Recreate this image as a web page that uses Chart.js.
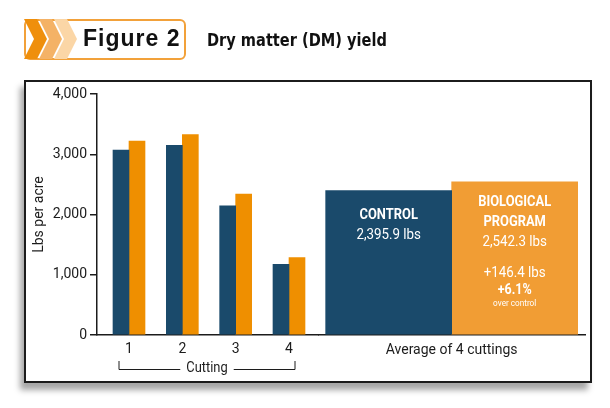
<!DOCTYPE html>
<html>
<head>
<meta charset="utf-8">
<script src="https://cdn.jsdelivr.net/npm/chart.js@4.4.1/dist/chart.umd.min.js"></script>
<style>
  html, body { margin: 0; padding: 0; background: #fff; }
  body { width: 610px; height: 408px; position: relative; overflow: hidden; }
  #frame {
    position: absolute; left: 24px; top: 80px; width: 564px; height: 299px;
    border: 2px solid #1c1c1c; background: #fff;
    box-shadow: -4px 7px 6px rgba(0, 0, 0, 0.35);
  }
  #chart { position: absolute; left: 0; top: 0; }
  #badge { position: absolute; left: 0; top: 0; }
  #title {
    position: absolute; left: 207px; top: 29px; color: #111; white-space: nowrap;
    font-family: "DejaVu Sans", sans-serif; font-weight: bold; font-size: 18px;
    transform: scaleX(0.81); transform-origin: 0 0;
  }
</style>
</head>
<body>
<div id="frame"></div>
<canvas id="chart" width="610" height="408"></canvas>
<svg id="badge" width="200" height="70">
  <rect x="25" y="20" width="160" height="39" rx="5" fill="#fff" stroke="#f2a13a" stroke-width="2"/>
  <polygon points="24,19 37,19 47,39 37,59 24,59 34,39" fill="#ef8f0c"/>
  <polygon points="39,19 52,19 62,39 52,59 39,59 49,39" fill="#f4b266"/>
  <polygon points="54,19 67,19 77,39 67,59 54,59 64,39" fill="#fbd6a6"/>
  <text x="83" y="46" font-family="Liberation Sans, Arial, sans-serif" font-weight="bold" font-size="23" letter-spacing="1" fill="#111">Figure 2</text>
</svg>
<div id="title">Dry matter (DM) yield</div>

<script>
  // values (lbs per acre)
  const cuttings = [1, 2, 3, 4];
  const controlYield = [3070, 3150, 2145, 1175];
  const bioYield = [3220, 3325, 2340, 1285];
  const avgLabels = ["Average of 4 cuttings"];
  const controlAvg = [2395.9];
  const bioAvg = [2542.3];
  const yTicks = [0, 1000, 2000, 3000, 4000];
  const cuttingTitle = "Cutting";
  const yTitle = "Lbs per acre";

  const NAVY = "#1a4a6b";
  const ORANGE = "#ef8f00";
  const ORANGE_AVG = "#f19d34";
  const INK = "#1c1c1c";
  const FONT = "Roboto, 'Liberation Sans', sans-serif";
  const SQUEEZE = 0.86; // the original uses a condensed face

  function fmt(v, digits) {
    return v.toLocaleString("en-US", { minimumFractionDigits: digits, maximumFractionDigits: digits });
  }

  function narrowText(c, text, x, y) {
    c.save();
    c.translate(x, y);
    c.scale(SQUEEZE, 1);
    c.fillText(text, 0, 0);
    c.restore();
  }

  const gain = bioAvg[0] - controlAvg[0];
  const gainPct = (gain / controlAvg[0]) * 100;

  // text drawn inside the two average bars, dy is from the top of the bar
  const barNotes = [
    [
      { text: "CONTROL", size: 15, bold: true, dy: 28.6 },
      { text: fmt(controlAvg[0], 1) + " lbs", size: 15.5, dy: 48.3 },
    ],
    [
      { text: "BIOLOGICAL", size: 15, bold: true, dy: 24.2 },
      { text: "PROGRAM", size: 15, bold: true, dy: 44 },
      { text: fmt(bioAvg[0], 1) + " lbs", size: 15.5, dy: 64 },
      { text: "+" + fmt(gain, 1) + " lbs", size: 15.5, dy: 95.5 },
      { text: "+" + fmt(gainPct, 1) + "%", size: 14.5, bold: true, dy: 112.2 },
      { text: "over control", size: 9.5, dy: 124.2 },
    ],
  ];

  const barText = {
    id: "barText",
    afterDatasetsDraw(chart) {
      const c = chart.ctx;
      c.save();
      c.fillStyle = "#fff";
      c.textAlign = "center";
      c.textBaseline = "alphabetic";
      barNotes.forEach((lines, i) => {
        const bar = chart.getDatasetMeta(2 + i).data[0];
        lines.forEach((l) => {
          c.font = (l.bold ? "bold " : "") + l.size + "px " + FONT;
          narrowText(c, l.text, bar.x, bar.y + l.dy);
        });
      });
      c.restore();
    },
  };

  // bracket under the cutting numbers
  const cuttingBracket = {
    id: "cuttingBracket",
    afterDraw(chart) {
      const xs = chart.scales.x;
      const c = chart.ctx;
      const bottom = chart.chartArea.bottom;
      const left = xs.getPixelForValue(cuttings[0]) - 10;
      const right = xs.getPixelForValue(cuttings[cuttings.length - 1]) + 6;
      const mid = (left + right) / 2;
      const lineY = bottom + 34.5;
      c.save();
      c.font = "15px " + FONT;
      c.fillStyle = INK;
      c.textAlign = "center";
      narrowText(c, cuttingTitle, mid, bottom + 36.7);
      const half = (c.measureText(cuttingTitle).width * SQUEEZE) / 2 + 6;
      c.strokeStyle = INK;
      c.lineWidth = 1;
      c.beginPath();
      c.moveTo(left, bottom + 26);
      c.lineTo(left, lineY);
      c.lineTo(mid - half, lineY);
      c.moveTo(mid + half, lineY);
      c.lineTo(right, lineY);
      c.lineTo(right, bottom + 26);
      c.stroke();
      c.restore();
    },
  };

  const tickFont = { family: FONT, size: 14 };

  new Chart(document.getElementById("chart"), {
    type: "bar",
    data: {
      datasets: [
        {
          label: "Control",
          indexAxis: "x",
          xAxisID: "x",
          data: cuttings.map((c, i) => ({ x: c, y: controlYield[i] })),
          backgroundColor: NAVY,
          barThickness: 16,
        },
        {
          label: "Biological program",
          indexAxis: "x",
          xAxisID: "x",
          data: cuttings.map((c, i) => ({ x: c, y: bioYield[i] })),
          backgroundColor: ORANGE,
          barThickness: 16,
        },
        {
          label: "Control",
          indexAxis: "x",
          xAxisID: "avg",
          data: controlAvg,
          backgroundColor: NAVY,
          barThickness: 126,
        },
        {
          label: "Biological program",
          indexAxis: "x",
          xAxisID: "avg",
          data: bioAvg,
          backgroundColor: ORANGE_AVG,
          barThickness: 126,
        },
      ],
    },
    options: {
      responsive: false,
      animation: false,
      // chart.js 4.5 shares one bar slot between several x axes; with the chart-level
      // indexAxis on "y" each x axis keeps its own grouping (datasets stay vertical)
      indexAxis: "y",
      layout: { padding: { top: 94, right: 25, bottom: 0, left: 0 } },
      plugins: { legend: { display: false }, tooltip: { enabled: false } },
      scales: {
        x: {
          type: "linear",
          axis: "x",
          position: "bottom",
          stack: "bottom",
          stackWeight: 0.83,
          offset: false,
          min: 0.4,
          max: 4.55,
          afterBuildTicks: (s) => { s.ticks = cuttings.map((v) => ({ value: v })); },
          grid: { display: false, drawTicks: false, offset: false },
          border: { color: INK, width: 1.5 },
          ticks: { color: INK, font: tickFont, padding: 6, callback: (v) => String(v) },
          afterFit: (s) => { s.height = 73; },
        },
        avg: {
          type: "category",
          axis: "x",
          labels: avgLabels,
          position: "bottom",
          stack: "bottom",
          stackWeight: 1,
          offset: true,
          grid: { display: false, drawTicks: false },
          border: { color: INK, width: 1.5 },
          ticks: { color: INK, font: tickFont, padding: 7 },
          afterFit: (s) => { s.height = 73; },
        },
        y: {
          type: "linear",
          axis: "y",
          position: "left",
          offset: false,
          min: 0,
          max: 4000,
          afterBuildTicks: (s) => { s.ticks = yTicks.map((v) => ({ value: v })); },
          grid: { drawOnChartArea: false, offset: false, tickLength: 7, color: INK, lineWidth: 1.5 },
          border: { color: INK, width: 1.5 },
          ticks: { color: INK, font: tickFont, padding: 3, callback: (v) => fmt(v, 0) },
          title: { display: true, text: yTitle, color: INK, font: tickFont, padding: { top: 31, bottom: 0 } },
          afterFit: (s) => { s.width = 97; },
        },
      },
    },
    plugins: [barText, cuttingBracket],
  });
</script>
</body>
</html>
